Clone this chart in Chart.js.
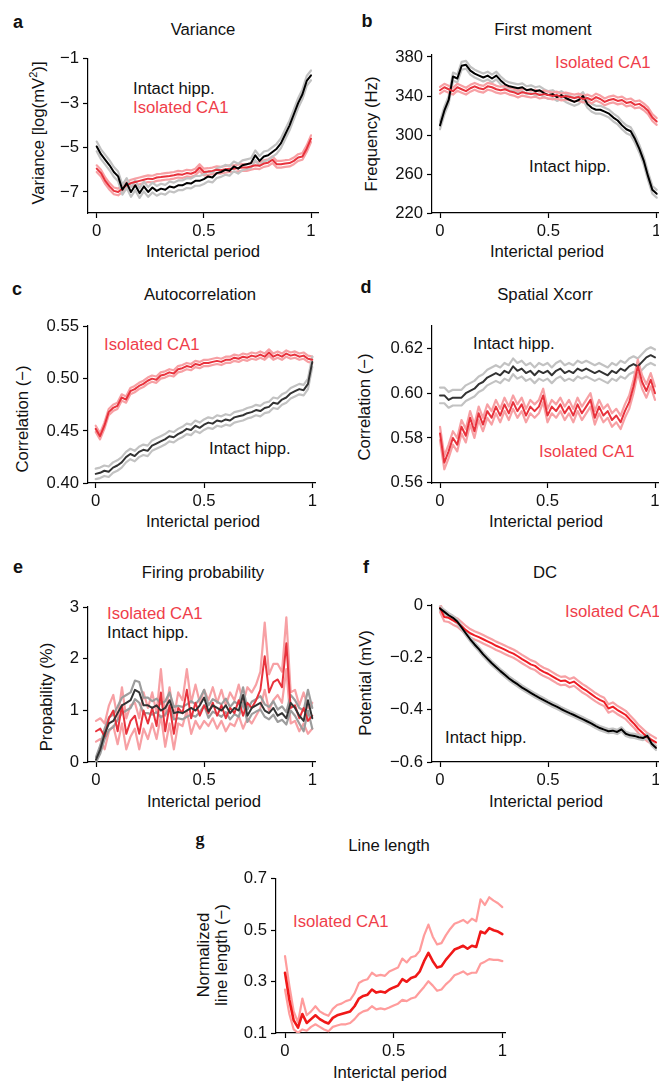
<!DOCTYPE html>
<html lang="en">
<head>
<meta charset="UTF-8" />
<title>Interictal features</title>
<script src="https://cdn.jsdelivr.net/npm/chart.js"></script>
<style>
  html, body { margin: 0; padding: 0; background: #fff; overflow: hidden; }
  body { width: 659px; height: 1081px; position: relative; font-family: "Liberation Sans", Arial, sans-serif; color: #111; }
  canvas { position: absolute; }
  .t { position: absolute; font-size: 16.7px; line-height: 1; white-space: nowrap; transform: translate(-50%, -50%); }
  .note { position: absolute; font-size: 16.7px; line-height: 1; white-space: nowrap; transform: translateY(-50%); }
  .ylab { position: absolute; font-size: 16.7px; line-height: 1; white-space: nowrap; text-align: center; transform: translate(-50%, -50%) rotate(-90deg); }
  .ylab sup { font-size: 11px; line-height: 0; }
  .letter { position: absolute; font-weight: bold; font-size: 18px; line-height: 1; transform: translate(-50%, -50%); }
  .red { color: #ef3e4a; }
</style>
</head>
<body>

<!-- panel letters -->
<div class="letter" style="left:18px;top:22px;">a</div>
<div class="letter" style="left:367px;top:21px;">b</div>
<div class="letter" style="left:17px;top:289px;">c</div>
<div class="letter" style="left:366px;top:287px;">d</div>
<div class="letter" style="left:18px;top:567px;">e</div>
<div class="letter" style="left:366px;top:567px;">f</div>
<div class="letter" style="left:200px;top:839px;font-family:'Liberation Serif',serif;">g</div>

<!-- titles -->
<div class="t" style="left:203px;top:30px;">Variance</div>
<div class="t" style="left:543px;top:30px;">First moment</div>
<div class="t" style="left:200px;top:295px;">Autocorrelation</div>
<div class="t" style="left:545px;top:295px;">Spatial Xcorr</div>
<div class="t" style="left:203px;top:573px;">Firing probability</div>
<div class="t" style="left:545px;top:573px;">DC</div>
<div class="t" style="left:389px;top:846px;">Line length</div>

<!-- axis titles -->
<div class="ylab" style="left:39px;top:133px;">Variance [log(mV<sup>2</sup>)]</div>
<div class="ylab" style="left:372px;top:134px;">Frequency (Hz)</div>
<div class="ylab" style="left:23px;top:419px;">Correlation (−)</div>
<div class="ylab" style="left:365px;top:407px;">Correlation (−)</div>
<div class="ylab" style="left:47px;top:697px;">Propability (%)</div>
<div class="ylab" style="left:366px;top:683px;">Potential (mV)</div>
<div class="ylab" style="left:213px;top:955px;line-height:18px;">Normalized<br>line length (−)</div>

<div class="t" style="left:203px;top:252px;">Interictal period</div>
<div class="t" style="left:547px;top:252px;">Interictal period</div>
<div class="t" style="left:203px;top:522px;">Interictal period</div>
<div class="t" style="left:546px;top:522px;">Interictal period</div>
<div class="t" style="left:204px;top:802px;">Interictal period</div>
<div class="t" style="left:546px;top:802px;">Interictal period</div>
<div class="t" style="left:390px;top:1073px;">Interictal period</div>

<!-- in-plot labels -->
<div class="note" style="left:133px;top:89px;">Intact hipp.</div>
<div class="note red" style="left:133px;top:108px;">Isolated CA1</div>
<div class="note red" style="left:555px;top:63px;">Isolated CA1</div>
<div class="note" style="left:529px;top:167px;">Intact hipp.</div>
<div class="note red" style="left:104px;top:345px;">Isolated CA1</div>
<div class="note" style="left:209px;top:449px;">Intact hipp.</div>
<div class="note" style="left:473px;top:344px;">Intact hipp.</div>
<div class="note red" style="left:539px;top:452px;">Isolated CA1</div>
<div class="note red" style="left:107px;top:614px;">Isolated CA1</div>
<div class="note" style="left:107px;top:633px;">Intact hipp.</div>
<div class="note red" style="left:565px;top:612px;">Isolated CA1</div>
<div class="note" style="left:445px;top:738px;">Intact hipp.</div>
<div class="note red" style="left:293px;top:922px;">Isolated CA1</div>

<script>
// interictal phase (x), shared by every panel
const phase = [0,0.02,0.04,0.06,0.08,0.1,0.12,0.14,0.16,0.18,0.2,0.22,0.24,0.26,0.28,0.3,0.32,0.34,0.36,0.38,
  0.4,0.42,0.44,0.46,0.48,0.5,0.52,0.54,0.56,0.58,0.6,0.62,0.64,0.66,0.68,0.7,0.72,0.74,0.76,0.78,
  0.8,0.82,0.84,0.86,0.88,0.9,0.92,0.94,0.96,0.98,1];
const xTicks = [0, 0.5, 1];
const xTickLabels = ['0', '0.5', '1'];

// a: variance
const varIntact = [-4.95,-5.3,-5.55,-5.8,-6.1,-6.3,-6.9,-6.6,-7.0,-6.7, -7.05,-6.75,-7.0,-6.8,-6.95,-6.85,-6.9,-6.75,-6.8,-6.7,
  -6.7,-6.6,-6.62,-6.5,-6.5,-6.42,-6.3,-6.35,-6.15,-6.1, -6.0,-6.05,-5.85,-5.95,-5.8,-5.75,-5.7,-5.35,-5.6,-5.4,
  -5.35,-5.2,-5.05,-4.8,-4.4,-4.0,-3.5,-3.0,-2.6,-2.0, -1.75];
const varIsolated = [-5.95,-6.15,-6.5,-6.75,-6.95,-7.0,-6.85,-6.7,-6.6,-6.55, -6.5,-6.45,-6.4,-6.42,-6.35,-6.33,-6.3,-6.28,-6.25,-6.2,
  -6.22,-6.15,-6.18,-6.1,-5.9,-6.1,-6.08,-6.05,-6.0,-6.02, -5.98,-5.95,-5.95,-5.92,-5.9,-5.9,-5.85,-5.8,-5.82,-5.72,
  -5.68,-5.55,-5.75,-5.75,-5.72,-5.7,-5.6,-5.45,-5.4,-5.05, -4.6];
const varSem = { intact: 0.22, isolated: 0.15 };
const varTicks = [-7, -5, -3, -1];
const varTickLabels = ['−7', '−5', '−3', '−1'];

// b: first moment
const fmIntact = [310,325,336,360,358,371,372,366,363,361, 359,361,358,361,356,352,350,349,348,349,
  346,347,345,346,343,341,342,339,341,338, 336,334,336,340,332,328,326,326,324,322,
  318,315,310,306,304,296,286,274,258,244, 240];
const fmIsolated = [346,349,347,345,349,347,345,348,350,348, 347,350,349,347,346,347,345,344,342,344,
  343,342,343,341,342,341,340,341,339,340, 339,338,339,337,338,336,339,337,334,336,
  337,335,336,333,334,331,332,329,325,318, 314];
const fmSem = { intact: 4, isolated: 3.5 };
const fmTicks = [220, 260, 300, 340, 380];
const fmTickLabels = ['220', '260', '300', '340', '380'];

// c: autocorrelation
const acIsolated = [0.452,0.445,0.455,0.468,0.472,0.474,0.482,0.480,0.488,0.490, 0.493,0.495,0.498,0.500,0.499,0.503,0.504,0.506,0.505,0.509,
  0.510,0.512,0.511,0.514,0.513,0.515,0.515,0.516,0.517,0.516, 0.518,0.518,0.520,0.519,0.521,0.520,0.522,0.521,0.523,0.521,
  0.525,0.521,0.523,0.521,0.524,0.522,0.523,0.521,0.522,0.519, 0.518];
const acIntact = [0.409,0.410,0.412,0.411,0.415,0.417,0.420,0.425,0.428,0.426, 0.430,0.432,0.431,0.436,0.438,0.440,0.442,0.445,0.444,0.447,
  0.449,0.452,0.451,0.455,0.453,0.456,0.458,0.457,0.460,0.459, 0.461,0.460,0.463,0.464,0.465,0.467,0.468,0.470,0.469,0.472,
  0.473,0.477,0.476,0.480,0.482,0.486,0.488,0.490,0.489,0.495, 0.516];
const acSem = { intact: 0.005, isolated: 0.003 };
const acTicks = [0.40, 0.45, 0.50, 0.55];
const acTickLabels = ['0.40', '0.45', '0.50', '0.55'];

// d: spatial xcorr
const xcIntact = [0.599,0.599,0.597,0.598,0.598,0.598,0.600,0.601,0.602,0.604, 0.605,0.607,0.608,0.609,0.608,0.610,0.609,0.612,0.610,0.611,
  0.609,0.610,0.608,0.610,0.609,0.610,0.608,0.610,0.611,0.609, 0.610,0.609,0.611,0.610,0.611,0.610,0.609,0.610,0.609,0.608,
  0.610,0.609,0.611,0.610,0.612,0.613,0.612,0.614,0.616,0.617, 0.616];
const xcIsolated = [0.582,0.569,0.574,0.580,0.577,0.585,0.581,0.589,0.583,0.591, 0.586,0.592,0.589,0.594,0.590,0.595,0.591,0.596,0.592,0.595,
  0.590,0.594,0.592,0.594,0.599,0.590,0.594,0.592,0.595,0.591, 0.594,0.590,0.595,0.591,0.594,0.597,0.589,0.594,0.590,0.592,
  0.588,0.590,0.587,0.592,0.596,0.603,0.612,0.605,0.601,0.606, 0.600];
const xcSem = { intact: 0.0035, isolated: 0.003 };
const xcTicks = [0.56, 0.58, 0.60, 0.62];
const xcTickLabels = ['0.56', '0.58', '0.60', '0.62'];

// e: firing probability
const fpIntact = [0.05,0.25,0.55,0.75,0.80,0.95,1.10,1.15,1.20,1.40, 1.35,1.10,1.10,1.05,1.10,1.00,1.05,1.20,0.95,0.97,
  0.95,1.00,1.05,1.00,1.10,1.25,0.98,1.10,1.05,1.00, 1.10,0.95,1.05,1.00,1.30,0.90,1.05,1.10,1.15,1.00,
  0.95,1.05,0.90,0.95,0.85,1.15,1.05,0.90,0.80,1.20, 0.85];
const fpIsolated = [0.60,0.65,0.50,0.85,1.00,0.60,1.10,0.55,0.80,0.90, 0.55,1.00,0.75,1.05,0.70,1.35,0.60,1.10,0.55,1.05,
  0.95,1.40,0.85,1.15,0.90,1.10,0.95,1.15,0.90,1.10, 0.85,1.05,0.95,1.20,0.90,1.15,1.05,1.20,1.40,2.05,
  1.35,1.55,1.60,1.45,2.30,1.05,1.10,0.85,1.05,0.80, 0.90];
const fpSemIntact = [0.05,0.08,0.1,0.12,0.12,0.13,0.15,0.15,0.15,0.18, 0.2,0.15,0.15,0.13,0.13,0.13,0.13,0.15,0.12,0.12,
  0.12,0.12,0.13,0.12,0.13,0.15,0.12,0.12,0.12,0.12, 0.13,0.12,0.12,0.12,0.15,0.12,0.12,0.12,0.13,0.12,
  0.12,0.13,0.12,0.13,0.12,0.15,0.15,0.15,0.2,0.2, 0.2];
const fpSemIsolated = [0.2,0.2,0.25,0.25,0.3,0.25,0.35,0.3,0.3,0.25, 0.3,0.35,0.3,0.3,0.25,0.45,0.3,0.35,0.3,0.3,
  0.25,0.4,0.3,0.35,0.25,0.3,0.25,0.3,0.25,0.3, 0.25,0.3,0.25,0.3,0.25,0.3,0.3,0.3,0.35,0.65,
  0.35,0.35,0.3,0.3,0.5,0.3,0.3,0.25,0.3,0.25, 0.25];
const fpTicks = [0, 1, 2, 3];
const fpTickLabels = ['0', '1', '2', '3'];

// f: DC potential
const dcIntact = [-0.012,-0.025,-0.038,-0.048,-0.062,-0.085,-0.108,-0.130,-0.150,-0.168, -0.188,-0.205,-0.222,-0.237,-0.252,-0.266,-0.280,-0.292,-0.303,-0.315,
  -0.325,-0.335,-0.345,-0.354,-0.363,-0.372,-0.380,-0.388,-0.397,-0.405, -0.413,-0.420,-0.428,-0.436,-0.444,-0.452,-0.462,-0.470,-0.476,-0.482,
  -0.480,-0.485,-0.475,-0.492,-0.498,-0.500,-0.505,-0.508,-0.500,-0.530, -0.546];
const dcIsolated = [-0.010,-0.045,-0.048,-0.058,-0.066,-0.080,-0.095,-0.107,-0.115,-0.122, -0.130,-0.138,-0.146,-0.155,-0.162,-0.170,-0.178,-0.185,-0.195,-0.206,
  -0.216,-0.226,-0.232,-0.245,-0.255,-0.262,-0.272,-0.282,-0.290,-0.288, -0.298,-0.292,-0.305,-0.318,-0.328,-0.340,-0.352,-0.362,-0.370,-0.395,
  -0.388,-0.400,-0.410,-0.420,-0.438,-0.455,-0.475,-0.490,-0.505,-0.515, -0.525];
const dcSem = { intact: 0.008, isolated: 0.016 };
const dcTicks = [-0.6, -0.4, -0.2, 0];
const dcTickLabels = ['−0.6', '−0.4', '−0.2', '0'];

// g: line length
const llIsolated = [0.335,0.230,0.150,0.122,0.175,0.140,0.155,0.170,0.155,0.145, 0.138,0.160,0.170,0.175,0.180,0.185,0.205,0.235,0.245,0.250,
  0.270,0.258,0.262,0.258,0.270,0.278,0.285,0.310,0.300,0.315, 0.320,0.340,0.380,0.412,0.380,0.355,0.360,0.385,0.405,0.425,
  0.432,0.440,0.428,0.440,0.435,0.495,0.488,0.508,0.500,0.495, 0.485];
const llSem = [0.065,0.055,0.035,0.02,0.06,0.03,0.03,0.035,0.03,0.03, 0.03,0.035,0.04,0.04,0.045,0.045,0.05,0.06,0.06,0.06,
  0.065,0.065,0.065,0.065,0.07,0.07,0.07,0.08,0.075,0.08, 0.08,0.08,0.10,0.11,0.095,0.09,0.09,0.095,0.10,0.10,
  0.10,0.10,0.10,0.105,0.10,0.125,0.11,0.12,0.115,0.11, 0.105];
const llTicks = [0.1, 0.3, 0.5, 0.7];
const llTickLabels = ['0.1', '0.3', '0.5', '0.7'];

const RED = '#e8323c';
const RED_BAND = '#f7a0a4';
const GRAY_BAND = '#c2c2c2';
const FONT = '"Liberation Sans", Arial, sans-serif';

function pts(vals) {
  return vals.map((v, i) => ({ x: phase[i], y: v }));
}
function shifted(vals, sem, sign) {
  return vals.map((v, i) => v + sign * (Array.isArray(sem) ? sem[i] : sem));
}
// mean line plus its two SEM edge lines
function series(vals, sem, color, bandColor, order, width) {
  const band = { borderColor: bandColor, borderWidth: 2.2, order: order + 10 };
  return [
    { data: pts(vals), borderColor: color, borderWidth: width || 2, order: order },
    Object.assign({ data: pts(shifted(vals, sem, 1)) }, band),
    Object.assign({ data: pts(shifted(vals, sem, -1)) }, band)
  ];
}

const YW = 56, XH = 34, PT = 12, PR = 8;

// box: axis corner and ends in page px; x0/x1: where 0 and 1 sit; y cal: two values and their px
function panel(box, yTicks, yLabels, datasets) {
  const L = Math.round(box.L), T = Math.round(box.T), R = Math.round(box.R), B = Math.round(box.B);
  const xmin = (L - box.x0) / (box.x1 - box.x0);
  const xmax = (R - box.x0) / (box.x1 - box.x0);
  const k = (box.yp2 - box.yp1) / (box.yv2 - box.yv1);
  const ymax = box.yv1 + (T - box.yp1) / k;
  const ymin = box.yv1 + (B - box.yp1) / k;

  const c = document.createElement('canvas');
  const w = R - L + YW + PR, h = B - T + PT + XH;
  c.width = w; c.height = h;
  c.style.left = (L - YW) + 'px';
  c.style.top = (T - PT) + 'px';
  c.style.width = w + 'px';
  c.style.height = h + 'px';
  document.body.appendChild(c);

  const axis = {
    grid: { display: true, drawOnChartArea: false, drawTicks: true, tickLength: 5, tickWidth: 1.2, tickColor: '#000' },
    border: { display: true, color: '#000', width: 1.2 }
  };
  new Chart(c, {
    type: 'line',
    data: { datasets: datasets },
    options: {
      responsive: false,
      animation: false,
      devicePixelRatio: 1,
      layout: { padding: { top: PT, right: PR, left: 0, bottom: 0 } },
      plugins: { legend: { display: false }, tooltip: { enabled: false } },
      elements: { point: { radius: 0 }, line: { tension: 0, borderJoinStyle: 'round', borderCapStyle: 'round', fill: false } },
      scales: {
        x: Object.assign({
          type: 'linear', min: xmin, max: xmax,
          afterBuildTicks: s => { s.ticks = xTicks.map(v => ({ value: v })); },
          afterFit: s => { s.height = XH; },
          ticks: { font: { family: FONT, size: 16.7 }, color: '#111', padding: 3, maxRotation: 0, autoSkip: false,
                   callback: (v, i) => xTickLabels[i] }
        }, axis),
        y: Object.assign({
          type: 'linear', min: ymin, max: ymax,
          afterBuildTicks: s => { s.ticks = yTicks.map(v => ({ value: v })); },
          afterFit: s => { s.width = YW; },
          ticks: { font: { family: FONT, size: 16.7 }, color: '#111', padding: 4, autoSkip: false,
                   callback: (v, i) => yLabels[i] }
        }, axis)
      }
    }
  });
}

panel({ L: 87.7, T: 56.7, R: 318.3, B: 213.3, x0: 96.7, x1: 311, yv1: -1, yp1: 56.7, yv2: -7, yp2: 191.7 },
  varTicks, varTickLabels,
  [...series(varIntact, varSem.intact, '#000', GRAY_BAND, 0), ...series(varIsolated, varSem.isolated, RED, RED_BAND, 1)]);

panel({ L: 431.7, T: 53.3, R: 668, B: 213.3, x0: 440, x1: 656.7, yv1: 380, yp1: 55, yv2: 220, yp2: 213.3 },
  fmTicks, fmTickLabels,
  [...series(fmIntact, fmSem.intact, '#000', GRAY_BAND, 1), ...series(fmIsolated, fmSem.isolated, RED, RED_BAND, 0)]);

panel({ L: 87.7, T: 324.3, R: 315, B: 483.3, x0: 95.7, x1: 312.3, yv1: 0.55, yp1: 324.3, yv2: 0.40, yp2: 483.3 },
  acTicks, acTickLabels,
  [...series(acIntact, acSem.intact, '#333', GRAY_BAND, 0), ...series(acIsolated, acSem.isolated, RED, RED_BAND, 1)]);

panel({ L: 432.3, T: 324.3, R: 668, B: 482.7, x0: 440, x1: 655, yv1: 0.62, yp1: 346.7, yv2: 0.56, yp2: 482.7 },
  xcTicks, xcTickLabels,
  [...series(xcIntact, xcSem.intact, '#333', GRAY_BAND, 1), ...series(xcIsolated, xcSem.isolated, RED, RED_BAND, 0)]);

panel({ L: 87.7, T: 605, R: 315, B: 762.3, x0: 96, x1: 312.3, yv1: 3, yp1: 605, yv2: 0, yp2: 762.3 },
  fpTicks, fpTickLabels,
  [...series(fpIntact, fpSemIntact, '#333', '#9c9c9c', 0), ...series(fpIsolated, fpSemIsolated, RED, RED_BAND, 1)]);

panel({ L: 431.7, T: 603.3, R: 668, B: 762, x0: 440, x1: 656, yv1: 0, yp1: 603.3, yv2: -0.6, yp2: 762 },
  dcTicks, dcTickLabels,
  [...series(dcIntact, dcSem.intact, '#000', GRAY_BAND, 0), ...series(dcIsolated, dcSem.isolated, '#ee1c24', RED_BAND, 1)]);

panel({ L: 276, T: 876.7, R: 505, B: 1033.3, x0: 285, x1: 502.3, yv1: 0.7, yp1: 876.7, yv2: 0.1, yp2: 1033.3 },
  llTicks, llTickLabels,
  series(llIsolated, llSem, '#f01818', '#ff9c9c', 0, 2.6));
</script>
</body>
</html>
